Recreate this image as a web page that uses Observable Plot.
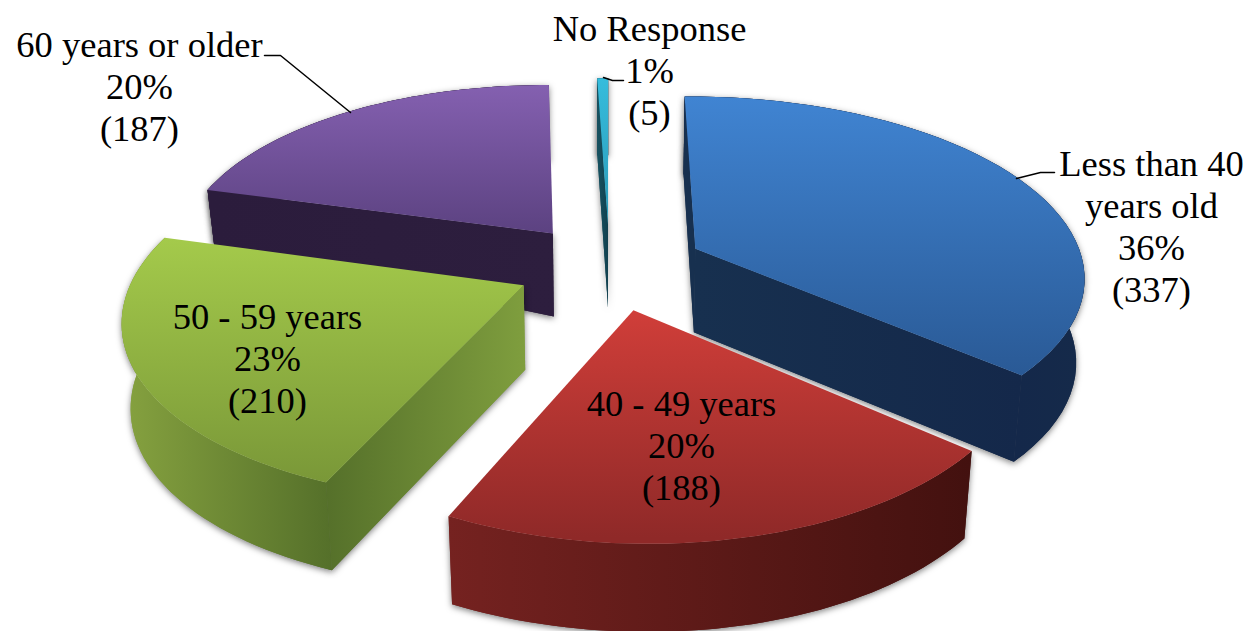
<!DOCTYPE html>
<html><head><meta charset="utf-8">
<script src="https://cdn.jsdelivr.net/npm/d3@7"></script>
<script src="https://cdn.jsdelivr.net/npm/@observablehq/plot@0.6"></script>
<style>html,body{margin:0;padding:0;background:#fff}svg{display:block}</style>
</head><body><div id="chart"></div>
<script>
const categories = ["Less than 40\nyears old", "40 - 49 years", "50 - 59 years", "60 years or older", "No Response"];
const counts = [337, 188, 210, 187, 5];
const percents = ["36%", "20%", "23%", "20%", "1%"];

// 3D view of the pie
const W = 1250, H = 631;
const cx = 612, cy = 266, S = 385, tilt = 180, persp = 0.15, sink = 0.018, explode = 0.24;
const nudge = [0, 0, -4, -4, -3];
const bulge = [0.014, 0.02, 0.012, 0.015, 0];
function depth(X, Y, i) {
  let d = 84 + 8 * Y;
  if (i === 3) d -= 26 * Math.max(0, -X - 0.15) / 0.95;
  return d;
}
function project(X, Y, Z, i) {
  const w = 1 - persp * Y + sink * Z;
  return {
    x: cx + nudge[i] + S * X / w,
    y: cy + tilt * Y / w + depth(X, Y, i) * Z
  };
}
const arcs = d3.pie().sort(null)(counts);

const topGrad = [
  ["#4084d2", "#2a5a96", 97, 372],
  ["#d03e39", "#8f2928", 310, 537],
  ["#a4ca4b", "#7a9838", 238, 480],
  ["#8460b0", "#5c4281", 85, 232],
  ["#36bcdc", "#2a98b6", 78, 235]
];
const radialGrad = [
  ["#17304f", "#14284a", 695, 1023],
  ["#5a1a18", "#5a1a18", 445, 970],
  ["#55702a", "#7f9e3e", 325, 525],
  ["#2b1c3c", "#2d1e3e", 210, 555],
  ["#16505f", "#103c4a", 598, 610]
];
const arcGrad = [
  ["#14284a", "#152a4a", 1015, 1082],
  ["#752220", "#43110f", 448, 970],
  ["#85a13f", "#55702a", 125, 330],
  ["#2b1c3c", "#2b1c3c", 210, 555],
  ["#16505f", "#103c4a", 598, 610]
];

const showStart = [0, 2, 3, 4];
const showEnd = [0];

function faces(i) {
  const a = arcs[i], mid = (a.startAngle + a.endAngle) / 2;
  const ox = explode * Math.sin(mid), oy = -explode * Math.cos(mid);
  const n = 48, rim = [];
  for (let k = 0; k <= n; ++k) {
    const t = k / n, th = a.startAngle + (a.endAngle - a.startAngle) * t;
    const r = 1 + bulge[i] * Math.sin(Math.PI * t);
    rim.push([ox + r * Math.sin(th), oy - r * Math.cos(th)]);
  }
  const at = (p, z) => project(p[0], p[1], z, i);
  const apex = [ox, oy];
  const first = rim[0], last = rim[n];
  return {
    top: [at(apex, 0), ...rim.map(p => at(p, 0))],
    startFace: [at(apex, 0), at(first, 0), at(first, 1), at(apex, 1)],
    endFace: [at(apex, 0), at(last, 0), at(last, 1), at(apex, 1)],
    outer: [...rim.map(p => at(p, 0)), ...rim.slice().reverse().map(p => at(p, 1))]
  };
}

const paintOrder = [3, 4, 0, 2, 1];
const sliceMarks = paintOrder.flatMap(i => {
  const f = faces(i);
  const opt = fill => ({x: "x", y: "y", fill, stroke: "none", curve: "linear"});
  const shadow = {imageFilter: "drop-shadow(0px 2px 3px rgba(0,0,0,.5))"};
  const sides = extra => [
    Plot.line(f.outer, {...opt(`url(#arc${i})`), ...extra}),
    ...(showStart.includes(i) ? [Plot.line(f.startFace, {...opt(`url(#rad${i})`), ...extra})] : []),
    ...(showEnd.includes(i) ? [Plot.line(f.endFace, {...opt(`url(#rad${i})`), ...extra})] : [])
  ];
  return [
    ...sides(shadow),           // first pass casts the soft shadow
    ...sides({}),               // second pass paints clean faces over it
    Plot.line(f.top, opt(`url(#top${i})`))
  ];
});

// labels
const labelX = [1151, 681, 267, 139, 649];
const labelY = [225, 444, 357, 85, 69];
const labels = categories.map((c, i) => ({
  x: labelX[i], y: labelY[i],
  text: `${c}\n${percents[i]}\n(${counts[i]})`
}));
const leaders = [
  [{x: 1016, y: 178}, {x: 1040, y: 172}, {x: 1054, y: 172}],
  [{x: 264, y: 55}, {x: 280, y: 55}, {x: 350, y: 112}],
  [{x: 603, y: 77}, {x: 612, y: 80}, {x: 623, y: 80}]
];

const svg = Plot.plot({
  width: W, height: H,
  margin: 0,
  x: {domain: [0, W], range: [0, W], axis: null},
  y: {domain: [0, H], range: [0, H], axis: null},
  marks: [
    ...sliceMarks,
    ...leaders.map(l => Plot.line(l, {x: "x", y: "y", stroke: "#000", strokeWidth: 1.5, curve: "linear"})),
    Plot.text(labels, {
      x: "x", y: "y", text: "text", fill: "#000",
      fontFamily: "'Liberation Serif', serif", fontSize: 36.5, lineHeight: 1.15,
      textAnchor: "middle", lineAnchor: "middle"
    })
  ]
});

const defs = d3.select(svg).insert("defs", ":first-child");
function grad(id, [c0, c1, a, b], vertical) {
  const g = defs.append("linearGradient").attr("id", id).attr("gradientUnits", "userSpaceOnUse");
  if (vertical) g.attr("x1", 0).attr("x2", 0).attr("y1", a).attr("y2", b);
  else g.attr("y1", 0).attr("y2", 0).attr("x1", a).attr("x2", b);
  g.append("stop").attr("offset", 0).attr("stop-color", c0);
  g.append("stop").attr("offset", 1).attr("stop-color", c1);
}
counts.forEach((_, i) => {
  grad(`top${i}`, topGrad[i], true);
  grad(`rad${i}`, radialGrad[i], false);
  grad(`arc${i}`, arcGrad[i], false);
});
document.getElementById("chart").append(svg);
</script></body></html>
